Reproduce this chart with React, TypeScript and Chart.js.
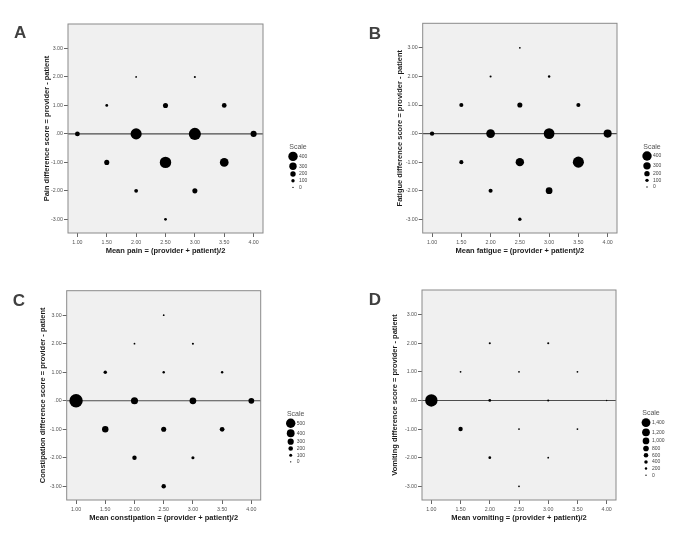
import React, { useEffect, useRef } from 'react';
import { Chart, registerables } from 'chart.js';

Chart.register(...registerables);

// ---- data ----
const xTicks = [1, 1.5, 2, 2.5, 3, 3.5, 4];
const yTicks = [-3, -2, -1, 0, 1, 2, 3];

// grid cells (mean score, difference score)
const cellX = [2.5, 2, 3, 1.5, 2.5, 3.5, 1, 2, 3, 4, 1.5, 2.5, 3.5, 2, 3, 2.5];
const cellY = [3, 2, 2, 1, 1, 1, 0, 0, 0, 0, -1, -1, -1, -2, -2, -3];

// counts per cell (null = no observations)
const painCounts = [null, 18, 35, 70, 185, 168, 170, 485, 535, 235, 185, 500, 368, 118, 185, 68];
const fatigueCounts = [18, 35, 52, 135, 185, 135, 150, 368, 468, 335, 135, 350, 485, 135, 268, 100];
const constipationCounts = [23, 23, 44, 127, 65, 65, 750, 356, 335, 273, 315, 231, 210, 190, 106, 190];
const vomitingCounts = [null, 132, 132, 70, 70, 70, 2080, 258, 132, 10, 570, 70, 70, 258, 70, 70];

const painScale = [400, 300, 200, 100, 0];
const fatigueScale = [400, 300, 200, 100, 0];
const constipationScale = [500, 400, 300, 200, 100, 0];
const vomitingScale = [1400, 1200, 1000, 800, 600, 400, 200, 0];

const FONT = '"Liberation Sans", Arial, sans-serif';
const TITLE_SIZE = 7.5;

type PanelCfg = {
  letter: string;
  name: string;
  counts: (number | null)[];
  scale: number[];
  k: number;
  left: number;
  top: number;
  w: number;
  h: number;
  area: [number, number, number, number];
  yTitleX: number;
  letterPos: [number, number];
};

const panels: PanelCfg[] = [
  { letter: 'A', name: 'pain', counts: painCounts, scale: painScale, k: 0.02,
    left: 0, top: 0, w: 342, h: 270, area: [68, 24, 263, 233], yTitleX: 46.7, letterPos: [14, 38.3] },
  { letter: 'B', name: 'fatigue', counts: fatigueCounts, scale: fatigueScale, k: 0.02,
    left: 342, top: 0, w: 343, h: 270, area: [80.7, 23.3, 275, 233], yTitleX: 58.3, letterPos: [26.7, 39] },
  { letter: 'C', name: 'constipation', counts: constipationCounts, scale: constipationScale, k: 0.016,
    left: 0, top: 270, w: 342, h: 268, area: [66.7, 20.7, 260.7, 230], yTitleX: 43.3, letterPos: [12.7, 35.7] },
  { letter: 'D', name: 'vomiting', counts: vomitingCounts, scale: vomitingScale, k: 0.0053,
    left: 342, top: 270, w: 343, h: 268, area: [80, 20, 274, 230], yTitleX: 53.3, letterPos: [26.7, 35] },
];

const diam = (n: number, k: number) => 1.4 + k * n;

const fmt = (v: number) => {
  if (v === 0) return '.00';
  return v.toFixed(2);
};

const decoPlugin = {
  id: 'deco',
  beforeDraw(chart: any) {
    const { ctx, chartArea: a } = chart;
    ctx.save();
    ctx.fillStyle = '#f0f0f0';
    ctx.fillRect(a.left, a.top, a.right - a.left, a.bottom - a.top);
    ctx.restore();
  },
  beforeDatasetsDraw(chart: any) {
    const { ctx, chartArea: a } = chart;
    const y0 = chart.scales.y.getPixelForValue(0);
    ctx.save();
    ctx.strokeStyle = '#4d4d4d';
    ctx.lineWidth = 1.1;
    ctx.beginPath();
    ctx.moveTo(a.left, y0);
    ctx.lineTo(a.right, y0);
    ctx.stroke();
    ctx.restore();
  },
  afterDraw(chart: any, _args: any, o: any) {
    const { ctx, chartArea: a } = chart;
    ctx.save();
    // frame
    ctx.strokeStyle = '#8a8a8a';
    ctx.lineWidth = 1;
    ctx.strokeRect(a.left, a.top, a.right - a.left, a.bottom - a.top);
    // panel letter
    ctx.fillStyle = '#404040';
    ctx.font = `bold 17px ${FONT}`;
    ctx.textAlign = 'left';
    ctx.textBaseline = 'alphabetic';
    ctx.fillText(o.letter, o.letterPos[0], o.letterPos[1]);
    // size legend
    const cx = a.right + 30;
    const sy = (a.top + a.bottom) / 2 + 18.5;
    ctx.fillStyle = '#555';
    ctx.font = `7px ${FONT}`;
    ctx.textAlign = 'center';
    ctx.textBaseline = 'middle';
    ctx.fillText('Scale', a.right + 35, sy);
    let y = sy;
    let prev: number | null = null;
    (o.scale as number[]).forEach((v) => {
      const d = diam(v, o.k);
      if (prev === null) y += d / 2 + 4.7;
      else y += Math.max(6.7, (prev + d) / 2 + 1.4);
      prev = d;
      ctx.fillStyle = '#000';
      ctx.beginPath();
      ctx.arc(cx, y, d / 2, 0, Math.PI * 2);
      ctx.fill();
      ctx.fillStyle = '#444';
      ctx.font = `5px ${FONT}`;
      ctx.textAlign = 'left';
      ctx.fillText(v.toLocaleString('en-US'), a.right + 36, y);
    });
    ctx.restore();
  },
};

function Panel({ cfg }: { cfg: PanelCfg }) {
  const ref = useRef<HTMLCanvasElement>(null);
  useEffect(() => {
    const [L, T, R, B] = cfg.area;
    const data = cfg.counts
      .map((n, i) => (n === null ? null : { x: cellX[i], y: cellY[i], r: diam(n, cfg.k) / 2 }))
      .filter((p) => p !== null) as { x: number; y: number; r: number }[];
    const titleLH = TITLE_SIZE * 1.2;
    const chart = new Chart(ref.current as HTMLCanvasElement, {
      type: 'bubble',
      data: {
        datasets: [
          {
            data,
            backgroundColor: '#000',
            borderWidth: 0,
            hoverRadius: 0,
          } as any,
        ],
      },
      plugins: [decoPlugin as any],
      options: {
        animation: false,
        responsive: false,
        events: [],
        layout: { padding: { left: 0, top: T, right: cfg.w - R, bottom: 0 } },
        plugins: {
          legend: { display: false },
          tooltip: { enabled: false },
          deco: { letter: cfg.letter, letterPos: cfg.letterPos, scale: cfg.scale, k: cfg.k },
        } as any,
        scales: {
          x: {
            type: 'linear',
            min: 0.84,
            max: 4.16,
            afterBuildTicks: (s: any) => {
              s.ticks = xTicks.map((v) => ({ value: v }));
            },
            afterFit: (s: any) => {
              s.height = cfg.h - B;
            },
            ticks: {
              autoSkip: false,
              maxRotation: 0,
              padding: 2,
              color: '#555',
              font: { family: FONT, size: 5.3 },
              callback: (v: any) => fmt(Number(v)),
            },
            grid: { display: true, drawOnChartArea: false, drawTicks: true, tickLength: 4, color: '#666' },
            border: { display: false },
            title: {
              display: true,
              text: `Mean ${cfg.name} = (provider + patient)/2`,
              color: '#1a1a1a',
              font: { family: FONT, size: TITLE_SIZE, weight: 'bold' },
              padding: { top: 0, bottom: cfg.h - (B + 18) - titleLH / 2 },
            },
          },
          y: {
            type: 'linear',
            min: -3.48,
            max: 3.86,
            afterBuildTicks: (s: any) => {
              s.ticks = yTicks.map((v) => ({ value: v }));
            },
            afterFit: (s: any) => {
              s.width = L;
            },
            ticks: {
              autoSkip: false,
              padding: 1,
              color: '#555',
              font: { family: FONT, size: 5.3 },
              callback: (v: any) => fmt(Number(v)),
            },
            grid: { display: true, drawOnChartArea: false, drawTicks: true, tickLength: 4, color: '#666' },
            border: { display: false },
            title: {
              display: true,
              text: `${cfg.name.charAt(0).toUpperCase() + cfg.name.slice(1)} difference score = provider - patient`,
              color: '#1a1a1a',
              font: { family: FONT, size: TITLE_SIZE, weight: 'bold' },
              padding: { top: cfg.yTitleX - titleLH / 2, bottom: 0 },
            },
          },
        },
      } as any,
    });
    return () => chart.destroy();
  }, [cfg]);
  return (
    <canvas
      ref={ref}
      width={cfg.w}
      height={cfg.h}
      style={{ position: 'absolute', left: cfg.left, top: cfg.top, width: cfg.w, height: cfg.h }}
    />
  );
}

export default function App() {
  return (
    <div style={{ position: 'absolute', left: 0, top: 0, width: 685, height: 538, background: '#fff' }}>
      {panels.map((p) => (
        <Panel key={p.letter} cfg={p} />
      ))}
    </div>
  );
}
